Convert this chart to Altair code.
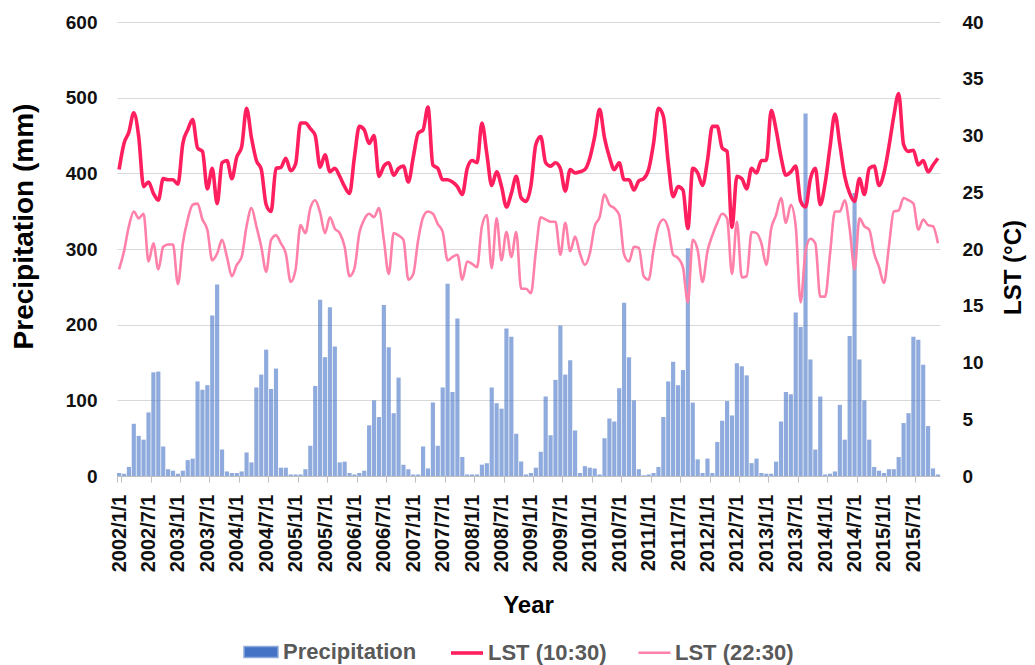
import altair as alt
import pandas as pd

# Monthly categories 2002/1/1 ... 2015/12/1
dates = [f"{y}/{m}/1" for y in range(2002, 2016) for m in range(1, 13)]
tick_dates = [d for d in dates if d.split("/")[1] in ("1", "7")]

precip = [
    4, 3, 12, 69, 53, 48, 84, 137, 138, 39, 9, 7,
    3, 7, 21, 23, 125, 114, 120, 212, 253, 35, 6, 4,
    4, 6, 31, 18, 117, 134, 167, 115, 142, 11, 11, 2,
    2, 2, 9, 40, 119, 233, 157, 223, 171, 18, 19, 4,
    2, 4, 7, 67, 100, 78, 226, 170, 83, 130, 15, 9,
    2, 2, 39, 10, 97, 40, 117, 254, 111, 208, 25, 2,
    2, 2, 15, 17, 117, 96, 89, 195, 184, 56, 19, 2,
    4, 11, 32, 105, 54, 127, 199, 134, 153, 60, 4, 13,
    11, 10, 2, 50, 76, 72, 116, 229, 157, 100, 9, 1,
    2, 4, 12, 78, 125, 151, 120, 140, 301, 97, 22, 4,
    23, 4, 45, 73, 99, 80, 149, 145, 133, 17, 23, 4,
    3, 3, 19, 72, 111, 108, 216, 197, 479, 154, 35, 105,
    2, 3, 6, 94, 48, 185, 374, 154, 100, 48, 12, 7,
    4, 9, 9, 25, 70, 83, 184, 180, 147, 66, 10, 2,
]

lst_day = [
    27.0, 29.3, 30.3, 32.0, 29.9, 25.5, 25.9, 24.9, 24.3, 26.2, 26.1, 26.1,
    25.7, 29.3, 30.5, 31.4, 28.9, 28.6, 25.3, 27.1, 24.0, 27.6, 27.8, 26.2,
    28.1, 29.0, 32.4, 29.8, 27.8, 27.0, 23.9, 23.3, 27.1, 27.2, 28.0, 26.9,
    27.5, 31.1, 31.1, 30.6, 30.0, 27.2, 28.3, 26.8, 27.1, 26.4, 25.5, 24.9,
    28.1, 30.8, 30.5, 29.3, 30.0, 26.4, 27.3, 27.6, 26.5, 27.1, 27.3, 25.9,
    28.1, 30.2, 30.5, 32.5, 27.4, 27.1, 26.1, 26.1, 25.9, 25.5, 24.8, 27.1,
    27.8, 27.6, 31.1, 28.4, 25.6, 26.8, 25.5, 23.7, 24.9, 26.4, 24.5, 24.2,
    25.6, 29.2, 29.9, 27.6, 27.3, 27.6, 27.1, 25.1, 27.0, 26.7, 26.8, 27.0,
    28.0, 29.9, 32.3, 29.8, 28.1, 27.0, 27.6, 26.1, 26.1, 25.2, 26.0, 26.2,
    27.0, 29.3, 32.4, 31.7, 27.6, 24.6, 25.5, 25.2, 21.8, 27.1, 26.7, 25.6,
    27.8, 30.8, 30.8, 28.9, 28.6, 21.9, 26.4, 26.2, 25.3, 27.1, 26.7, 27.8,
    27.8, 32.2, 30.5, 28.1, 26.5, 26.8, 27.3, 24.2, 23.7, 26.2, 27.1, 23.9,
    25.8, 29.0, 31.9, 29.2, 26.4, 24.9, 24.2, 26.2, 24.8, 27.1, 27.3, 25.6,
    26.7, 29.0, 31.7, 33.7, 29.2, 28.6, 28.7, 27.4, 27.8, 26.8, 27.4, 28.0,
]

lst_night = [
    18.2, 19.8, 22.0, 23.3, 22.7, 23.1, 18.9, 20.5, 18.2, 20.2, 20.4, 20.4,
    16.9, 20.5, 22.6, 23.9, 24.0, 22.6, 21.7, 19.0, 19.6, 20.8, 19.3, 17.6,
    18.6, 19.3, 22.0, 23.6, 22.0, 20.2, 18.0, 20.8, 21.2, 20.5, 19.6, 17.1,
    18.2, 22.1, 21.4, 23.6, 24.3, 23.2, 21.4, 22.8, 21.8, 21.4, 20.2, 17.6,
    18.3, 21.4, 22.6, 23.1, 22.8, 23.6, 20.8, 17.8, 21.4, 21.2, 20.8, 17.3,
    17.8, 20.8, 22.8, 23.3, 23.1, 22.2, 21.5, 19.0, 19.3, 19.5, 17.3, 18.9,
    18.7, 18.4, 22.0, 23.0, 18.3, 22.7, 19.0, 21.5, 19.3, 21.5, 16.5, 16.5,
    16.1, 19.8, 22.8, 22.6, 22.4, 22.4, 19.5, 22.3, 19.8, 21.1, 19.6, 18.6,
    19.6, 22.0, 22.8, 24.8, 23.9, 23.6, 23.0, 19.5, 18.9, 20.2, 20.1, 17.6,
    17.3, 19.9, 22.0, 22.6, 21.8, 19.5, 19.2, 18.4, 15.3, 20.8, 19.9, 17.1,
    19.8, 21.2, 22.3, 23.1, 22.7, 17.8, 22.4, 17.5, 17.6, 21.5, 21.4, 20.5,
    18.6, 21.8, 23.0, 24.5, 22.3, 23.9, 22.0, 15.3, 19.8, 20.9, 20.5, 15.8,
    15.8, 19.6, 23.3, 23.3, 24.3, 21.8, 18.2, 22.7, 22.0, 21.7, 19.6, 18.4,
    17.0, 20.2, 23.3, 23.4, 24.5, 24.3, 24.0, 21.7, 22.6, 22.1, 22.0, 20.5,
]

series_names = ["LST (10:30)", "LST (22:30)"]
line_colors = ["#FF1F5E", "#FF80A8"]

df_p = pd.DataFrame({"date": dates, "precip": precip, "series": "Precipitation"})
df_l = pd.concat([
    pd.DataFrame({"date": dates, "lst": lst_day, "series": series_names[0]}),
    pd.DataFrame({"date": dates, "lst": lst_night, "series": series_names[1]}),
])

FONT = "Liberation Sans"

x_axis = alt.Axis(
    values=tick_dates, labelAngle=270, labelAlign="right", labelBaseline="middle",
    labelFontSize=20, labelFontWeight="bold", labelColor="#111111", labelPadding=12,
    labelOverlap=False, tickSize=6, tickColor="#BFBFBF", tickBand="extent",
    domainColor="#BFBFBF", grid=False,
    title="Year", titleFontSize=24, titleFontWeight="bold", titleColor="#000000",
    titleX=411, titleY=129, titleAlign="center", titleBaseline="middle",
)

x_enc = alt.X("date:O", sort=dates,
              scale=alt.Scale(paddingInner=0.15, paddingOuter=0),
              axis=x_axis)

bars = alt.Chart(df_p).mark_bar(fillOpacity=0.6).encode(
    x=x_enc,
    y=alt.Y("precip:Q", scale=alt.Scale(domain=[0, 600]),
            axis=alt.Axis(values=[0, 100, 200, 300, 400, 500, 600], grid=True,
                          gridColor="#D9D9D9", domain=False, ticks=False,
                          labelFontSize=19, labelFontWeight="bold", labelColor="#111111",
                          labelPadding=20, title="Precipitation (mm)", titleFontSize=28,
                          titleFontWeight="bold", titleColor="#000000", titleAngle=270,
                          titleX=-93, titleY=204, titleAlign="center",
                          titleBaseline="middle")),
    fill=alt.Fill("series:N",
                  scale=alt.Scale(domain=["Precipitation"], range=["#4472C4"]),
                  legend=alt.Legend(title=None, orient="none", legendX=126, legendY=612,
                                    symbolType="M-1,-0.32H1V0.32H-1Z", symbolSize=1156,
                                    symbolStrokeColor="#8FAADC", symbolStrokeWidth=1.5,
                                    symbolOpacity=1, labelFontSize=22,
                                    labelFontWeight="bold", labelColor="#595959",
                                    labelFont=FONT, labelOffset=4, padding=0)),
)

lines = alt.Chart(df_l).mark_line(interpolate="monotone").encode(
    x=alt.X("date:O", sort=dates, bandPosition=0.5,
            scale=alt.Scale(paddingInner=0.15, paddingOuter=0), axis=x_axis),
    y=alt.Y("lst:Q", scale=alt.Scale(domain=[0, 40]),
            axis=alt.Axis(orient="right", values=[0, 5, 10, 15, 20, 25, 30, 35, 40],
                          grid=False, domain=False, ticks=False, labelFontSize=19,
                          labelFontWeight="bold", labelColor="#111111", labelPadding=22,
                          labelAlign="left", title="LST (°C)", titleFontSize=24,
                          titleFontWeight="bold", titleColor="#000000", titleAngle=270,
                          titleX=73, titleY=245, titleAlign="center",
                          titleBaseline="middle")),
    color=alt.Color("series:N",
                    scale=alt.Scale(domain=series_names, range=line_colors),
                    legend=alt.Legend(title=None, orient="none", direction="horizontal",
                                      legendX=332, legendY=613, symbolType="stroke",
                                      symbolSize=1024, symbolStrokeWidth=4,
                                      labelFontSize=22, labelFontWeight="bold",
                                      labelColor="#595959", labelFont=FONT,
                                      labelOffset=3, columnPadding=26, padding=0)),
    strokeWidth=alt.StrokeWidth("series:N",
                                scale=alt.Scale(domain=series_names, range=[3.6, 2.6]),
                                legend=None),
)

chart = alt.layer(bars, lines).resolve_scale(y="independent").properties(
    width=823, height=454,
    padding={"left": 109, "top": 14, "right": 87, "bottom": 190},
    autosize=alt.AutoSizeParams(type="none"),
).configure_view(stroke=None).configure_axis(
    labelFont=FONT, titleFont=FONT
).configure_legend(labelFont=FONT)

chart.save("out.html", embed_options={"renderer": "svg", "actions": False})
